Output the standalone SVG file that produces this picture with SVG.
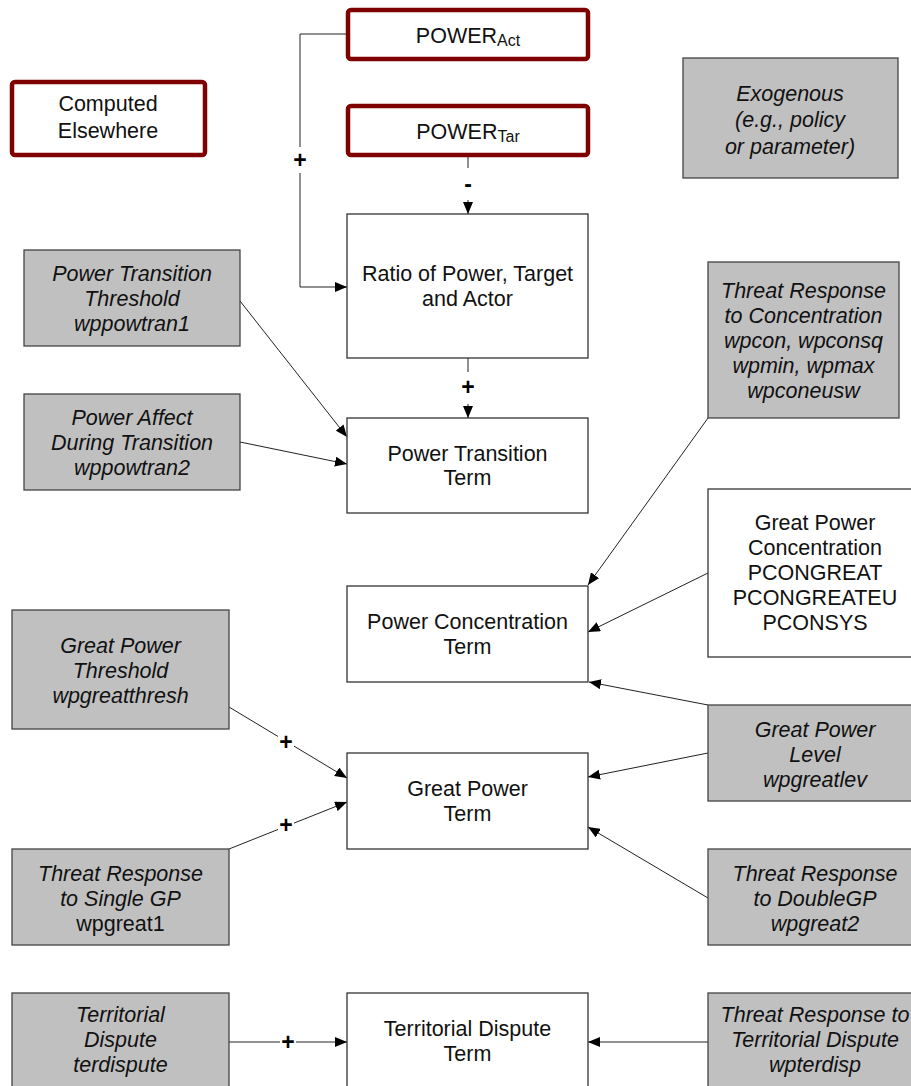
<svg xmlns="http://www.w3.org/2000/svg" width="911" height="1086" viewBox="0 0 911 1086">
<defs>
<marker id="arr" markerUnits="userSpaceOnUse" markerWidth="12" markerHeight="10" refX="12" refY="5" orient="auto">
<path d="M0,0 L12,5 L0,10 z" fill="#000"/>
</marker>
<style>
text{font-family:"Liberation Sans",Arial,sans-serif;font-size:21.5px;fill:#111;text-anchor:middle}
.it{font-style:italic}
.ext{fill:#fff;stroke:#7f0000;stroke-width:4.5}
.exo{fill:#c0c0c0;stroke:#444;stroke-width:1.3}
.var{fill:#fff;stroke:#333;stroke-width:1.3}
.c{fill:none;stroke:#222;stroke-width:1}
.ca{fill:none;stroke:#222;stroke-width:1;marker-end:url(#arr)}
.sign{font-size:23px;font-weight:bold;fill:#000}
.bg{fill:#fff}
</style>
</defs>
<rect width="911" height="1086" fill="#fff"/>

<g id="connectors">
<polyline class="c" points="346,34 300,34 300,147"/>
<polyline class="ca" points="300,173 300,287 347,287"/>
<text class="sign" x="300" y="168">+</text>

<line class="c" x1="468" y1="157" x2="468" y2="168"/>
<line class="ca" x1="468" y1="200" x2="468" y2="214"/>
<text class="sign" x="468" y="192">-</text>

<line class="c" x1="468" y1="358" x2="468" y2="372"/>
<line class="ca" x1="468" y1="404" x2="468" y2="418"/>
<text class="sign" x="468" y="395">+</text>

<line class="ca" x1="240" y1="301" x2="347" y2="437"/>
<line class="ca" x1="240" y1="442" x2="347" y2="464"/>

<line class="ca" x1="708" y1="418" x2="588" y2="585"/>
<line class="ca" x1="708" y1="573" x2="588" y2="632"/>
<line class="ca" x1="708" y1="705" x2="589" y2="682"/>
<line class="ca" x1="708" y1="753" x2="588" y2="777"/>
<line class="ca" x1="708" y1="898" x2="588" y2="827"/>

<line class="ca" x1="229" y1="707" x2="347" y2="778"/>
<rect class="bg" x="278" y="733" width="16" height="17"/>
<text class="sign" x="286" y="750">+</text>

<line class="ca" x1="229" y1="849" x2="347" y2="802"/>
<rect class="bg" x="278" y="816" width="16" height="17"/>
<text class="sign" x="286" y="833">+</text>

<line class="ca" x1="229" y1="1042" x2="347" y2="1042"/>
<rect class="bg" x="280" y="1033" width="16" height="17"/>
<text class="sign" x="288" y="1050">+</text>

<line class="ca" x1="708" y1="1042" x2="588" y2="1042"/>
</g>

<g id="power-act">
<rect class="ext" x="348" y="10" width="240" height="49" rx="3"/>
<text x="468" y="43">POWER<tspan font-size="16" dy="2.5">Act</tspan></text>
</g>
<g id="power-tar">
<rect class="ext" x="348" y="106" width="240" height="49" rx="3"/>
<text x="468" y="139">POWER<tspan font-size="16" dy="2.5">Tar</tspan></text>
</g>
<g id="computed-elsewhere">
<rect class="ext" x="12" y="82" width="193" height="73" rx="3"/>
<text x="108" y="110.5">Computed</text>
<text x="108" y="137.5">Elsewhere</text>
</g>
<g id="exogenous">
<rect class="exo" x="683" y="58" width="215" height="120"/>
<text class="it" x="790" y="100.5">Exogenous</text>
<text class="it" x="790" y="127">(e.g., policy</text>
<text class="it" x="790" y="153.5">or parameter)</text>
</g>

<g id="pt-threshold">
<rect class="exo" x="24" y="250" width="216" height="96"/>
<text class="it" x="132" y="281">Power Transition</text>
<text class="it" x="132" y="306">Threshold</text>
<text class="it" x="132" y="331">wppowtran1</text>
</g>
<g id="power-affect">
<rect class="exo" x="24" y="394" width="216" height="96"/>
<text class="it" x="132" y="425">Power Affect</text>
<text class="it" x="132" y="450">During Transition</text>
<text class="it" x="132" y="475">wppowtran2</text>
</g>

<g id="ratio">
<rect class="var" x="347" y="214" width="241" height="144"/>
<text x="467.5" y="281">Ratio of Power, Target</text>
<text x="467.5" y="306">and Actor</text>
</g>
<g id="pt-term">
<rect class="var" x="347" y="418" width="241" height="95"/>
<text x="467.5" y="460.5">Power Transition</text>
<text x="467.5" y="485">Term</text>
</g>

<g id="tr-concentration">
<rect class="exo" x="708" y="262" width="191" height="156"/>
<text class="it" x="803.5" y="297.5">Threat Response</text>
<text class="it" x="803.5" y="322.5">to Concentration</text>
<text class="it" x="803.5" y="347.5">wpcon, wpconsq</text>
<text class="it" x="803.5" y="372.5">wpmin, wpmax</text>
<text class="it" x="803.5" y="397.5">wpconeusw</text>
</g>
<g id="gp-concentration">
<rect class="var" x="708" y="489" width="214" height="168"/>
<text x="815" y="530">Great Power</text>
<text x="815" y="555">Concentration</text>
<text x="815" y="580">PCONGREAT</text>
<text x="815" y="605">PCONGREATEU</text>
<text x="815" y="630">PCONSYS</text>
</g>
<g id="pc-term">
<rect class="var" x="347" y="586" width="241" height="96"/>
<text x="467.5" y="628.5">Power Concentration</text>
<text x="467.5" y="653.5">Term</text>
</g>

<g id="gp-threshold">
<rect class="exo" x="12" y="610" width="217" height="119"/>
<text class="it" x="120.5" y="652.5">Great Power</text>
<text class="it" x="120.5" y="677.5">Threshold</text>
<text class="it" x="120.5" y="702.5">wpgreatthresh</text>
</g>
<g id="gp-level">
<rect class="exo" x="708" y="705" width="214" height="96"/>
<text class="it" x="815" y="737">Great Power</text>
<text class="it" x="815" y="762">Level</text>
<text class="it" x="815" y="787">wpgreatlev</text>
</g>
<g id="gp-term">
<rect class="var" x="347" y="753" width="241" height="96"/>
<text x="467.5" y="795.5">Great Power</text>
<text x="467.5" y="820.5">Term</text>
</g>
<g id="single-gp">
<rect class="exo" x="12" y="849" width="217" height="96"/>
<text class="it" x="120.5" y="881">Threat Response</text>
<text class="it" x="120.5" y="906">to Single GP</text>
<text x="120.5" y="931">wpgreat1</text>
</g>
<g id="double-gp">
<rect class="exo" x="708" y="849" width="214" height="96"/>
<text class="it" x="815" y="880.5">Threat Response</text>
<text class="it" x="815" y="905.5">to DoubleGP</text>
<text class="it" x="815" y="930.5">wpgreat2</text>
</g>

<g id="territorial">
<rect class="exo" x="12" y="993" width="217" height="100"/>
<text class="it" x="120.5" y="1022">Territorial</text>
<text class="it" x="120.5" y="1047">Dispute</text>
<text class="it" x="120.5" y="1072">terdispute</text>
</g>
<g id="td-term">
<rect class="var" x="347" y="993" width="241" height="100"/>
<text x="467.5" y="1035.5">Territorial Dispute</text>
<text x="467.5" y="1060.5">Term</text>
</g>
<g id="tr-territorial">
<rect class="exo" x="708" y="993" width="214" height="100"/>
<text class="it" x="815" y="1022">Threat Response to</text>
<text class="it" x="815" y="1047">Territorial Dispute</text>
<text class="it" x="815" y="1072">wpterdisp</text>
</g>
</svg>
